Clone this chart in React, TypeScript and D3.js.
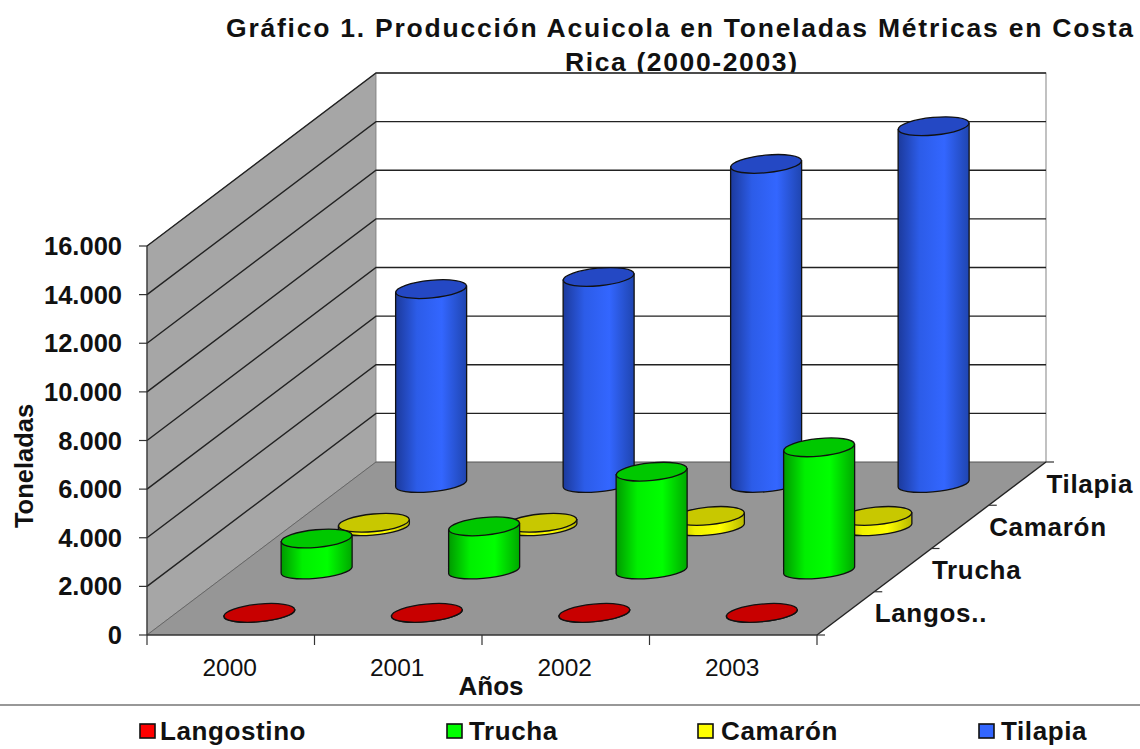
import React from "react";
import * as d3 from "d3";

const years = ["2000", "2001", "2002", "2003"];
const seriesNames = ["Langostino", "Trucha", "Camarón", "Tilapia"];
const depthLabels = ["Langos..", "Trucha", "Camarón", "Tilapia"];
const langostino = [20, 20, 20, 20];
const trucha = [1300, 1800, 4050, 5050];
const camaron = [170, 170, 450, 450];
const tilapia = [8000, 8500, 13150, 14700];
const seriesValues = [langostino, trucha, camaron, tilapia];
const yTicks = [0, 2000, 4000, 6000, 8000, 10000, 12000, 14000, 16000];
const tickLabels = ["0", "2.000", "4.000", "6.000", "8.000", "10.000", "12.000", "14.000", "16.000"];
const bodyStops = [
  ["#900000", "#f00000", "#ff0000", "#a00000"],
  ["#009a00", "#00f000", "#00ff00", "#00a800"],
  ["#b0b000", "#f0f000", "#ffff00", "#b8b800"],
  ["#1c3a9c", "#2c5ce8", "#3366ff", "#1f45b0"],
];
const topColors = ["#c80000", "#00c800", "#c8c800", "#2448c4"];
const swatchColors = ["#ff0000", "#00ff00", "#ffff00", "#3366ff"];
const seriesOrder = [3, 2, 1, 0];
const legendSwatchX = [140, 447, 698, 979];
const legendTextX = [160, 469, 721, 1001];

const W = 1140, H = 749;
const x0 = 147, x1 = 817, yFront = 635, yBack = 462, dx = 229;
const xScale = d3.scaleBand<string>().domain(years).range([x0, x1]);
const depth = d3.scaleBand<string>().domain(seriesNames).range([0, 1]);
const h = d3.scaleLinear().domain([0, 16000]).range([0, 389]);
const rx = 35.5, ry = 8, tiltDeg = -5.5;
const tilt = 3;

function project(xv: number, t: number, v = 0) {
  return [xv + dx * t, yFront - (yFront - yBack) * t - h(v)];
}
const poly = (pts: number[][]) => pts.map((p) => p.join(",")).join(" ");

function Cylinder({ yi, si }: { yi: number; si: number }) {
  const year = years[yi];
  const name = seriesNames[si];
  const v = seriesValues[si][yi];
  const cx0 = xScale(year)! + xScale.bandwidth() / 2;
  const t = depth(name)! + depth.bandwidth() / 2;
  const [bx, by] = project(cx0, t);
  const ty = by - h(v);
  const body = `M${bx - rx},${ty + tilt} L${bx - rx},${by + tilt} A${rx},${ry} ${tiltDeg} 0 0 ${bx + rx},${by - tilt} L${bx + rx},${ty - tilt} Z`;
  return (
    <g stroke="#111" strokeWidth={1.3}>
      <path d={body} fill={`url(#body${si})`} />
      <ellipse cx={bx} cy={ty} rx={rx} ry={ry + 0.8} transform={`rotate(${tiltDeg} ${bx} ${ty})`} fill={topColors[si]} />
    </g>
  );
}

export default function App() {
  const font = "'Liberation Sans', Arial, sans-serif";
  const pFL = project(x0, 0), pBL = project(x0, 1), pFR = project(x1, 0), pBR = project(x1, 1);
  const xTickPos = [x0, ...years.map((y) => xScale(y)! + xScale.bandwidth())];
  const depthTicks = d3.range(0, 1.01, 0.25);
  return (
    <svg width={W} height={H} viewBox={`0 0 ${W} ${H}`} style={{ position: "absolute", left: 0, top: 0, background: "#fff" }} fontFamily={font}>
      <defs>
        {bodyStops.map((c, i) => (
          <linearGradient key={i} id={`body${i}`} x1="0" x2="1" y1="0" y2="0">
            <stop offset="0" stopColor={c[0]} />
            <stop offset="0.3" stopColor={c[1]} />
            <stop offset="0.65" stopColor={c[2]} />
            <stop offset="1" stopColor={c[3]} />
          </linearGradient>
        ))}
      </defs>
      <text x={679.5} y={37} textAnchor="middle" fontSize={26.5} fontWeight="bold" textLength={907} lengthAdjust="spacing" fill="#111">Gráfico 1. Producción Acuicola en Toneladas Métricas en Costa</text>
      <text x={681} y={71} textAnchor="middle" fontSize={26.5} fontWeight="bold" textLength={232} lengthAdjust="spacing" fill="#111">Rica (2000-2003)</text>

      {/* walls and floor */}
      <polygon points={poly([[x0, yFront], [x0, yFront - 389], [x0 + dx, yBack - 389], [x0 + dx, yBack]])} fill="#a6a6a6" stroke="#777" strokeWidth={0.8} />
      <polyline points={poly([[x0 + dx, yBack - 389], [x1 + dx, yBack - 389], [x1 + dx, yBack]])} fill="#fff" stroke="#999" strokeWidth={1.2} />
      <polygon points={poly([pFL, pFR, pBR, pBL])} fill="#969696" />
      <line x1={pBL[0]} y1={pBL[1]} x2={pBR[0]} y2={pBR[1]} stroke="#555" strokeWidth={1} />
      <line x1={pFL[0]} y1={pFL[1]} x2={pBL[0]} y2={pBL[1]} stroke="#666" strokeWidth={1} />
      <line x1={pFR[0]} y1={pFR[1]} x2={pBR[0]} y2={pBR[1]} stroke="#222" strokeWidth={1.4} />
      {yTicks.slice(1).map((v) => {
        const a = project(x0, 0, v), b = project(x0, 1, v), c = project(x1, 1, v);
        return <polyline key={v} points={poly([a, b, c])} fill="none" stroke="#222" strokeWidth={1.4} />;
      })}

      {/* axes */}
      <line x1={x0} x2={x0} y1={yFront - 389} y2={yFront} stroke="#333" strokeWidth={1.2} />
      {yTicks.map((v, i) => (
        <g key={v}>
          <line x1={x0 - 8} x2={x0} y1={yFront - h(v)} y2={yFront - h(v)} stroke="#333" strokeWidth={1.2} />
          <text x={122} y={yFront - h(v) + 9} textAnchor="end" fontSize={25.5} fontWeight="bold" fill="#111">{tickLabels[i]}</text>
        </g>
      ))}
      <line x1={x0} x2={x1} y1={yFront} y2={yFront} stroke="#333" strokeWidth={1.4} />
      {xTickPos.map((x) => <line key={x} x1={x} x2={x} y1={yFront} y2={yFront + 10} stroke="#333" strokeWidth={1.2} />)}
      {years.map((y) => (
        <text key={y} x={xScale(y)! + xScale.bandwidth() / 2 - 1} y={676} textAnchor="middle" fontSize={24.5} fill="#111">{y}</text>
      ))}
      {depthTicks.map((t) => {
        const p = project(x1, t);
        return <line key={t} x1={p[0]} x2={p[0] + 8} y1={p[1]} y2={p[1]} stroke="#333" strokeWidth={1.2} />;
      })}
      {depthLabels.map((l, i) => {
        const t = depth(seriesNames[i])! + depth.bandwidth() / 2;
        const p = project(x1, t);
        return <text key={l} x={p[0] + 29} y={p[1] + 9} fontSize={26} fontWeight="bold" letterSpacing={0.7} fill="#111">{l}</text>;
      })}

      {/* cylinders, back to front */}
      {seriesOrder.map((si) => years.map((_, yi) => <Cylinder key={`${si}-${yi}`} yi={yi} si={si} />))}

      {/* axis titles */}
      <text x={491} y={695} textAnchor="middle" fontSize={26} fontWeight="bold" fill="#111">Años</text>
      <text transform="translate(33,466) rotate(-90)" textAnchor="middle" fontSize={25.5} fontWeight="bold" fill="#111">Toneladas</text>

      {/* legend */}
      <line x1={0} x2={W} y1={705} y2={705} stroke="#333" strokeWidth={1.2} />
      {seriesNames.map((s, i) => (
        <g key={s}>
          <rect x={legendSwatchX[i]} y={724} width={15} height={14} fill={swatchColors[i]} stroke="#111" strokeWidth={1.6} />
          <text x={legendTextX[i]} y={740} fontSize={26} fontWeight="bold" letterSpacing={0.6} fill="#111">{s}</text>
        </g>
      ))}
    </svg>
  );
}
